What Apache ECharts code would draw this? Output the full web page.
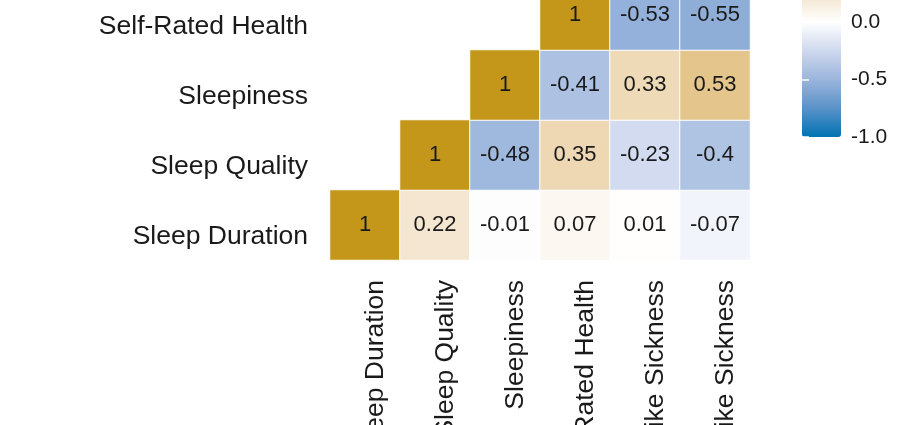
<!DOCTYPE html>
<html>
<head>
<meta charset="utf-8">
<script src="https://cdn.jsdelivr.net/npm/echarts@6/dist/echarts.min.js"></script>
<style>
html,body{margin:0;padding:0;background:#fff;overflow:hidden;width:920px;height:425px;}
#chart{position:absolute;left:0;top:-160px;width:920px;height:585px;}
</style>
</head>
<body>
<div id="chart"></div>
<script>
const variables = ['Sleep Duration','Sleep Quality','Sleepiness','Self-Rated Health','Cold-like Sickness','Flu-like Sickness'];
const rowSleepDuration   = [1, 0.22, -0.01, 0.07, 0.01, -0.07];
const rowSleepQuality    = [null, 1, -0.48, 0.35, -0.23, -0.4];
const rowSleepiness      = [null, null, 1, -0.41, 0.33, 0.53];
const rowSelfRatedHealth = [null, null, null, 1, -0.53, -0.55];
const rowColdLike        = [null, null, null, null, 1, 0.6];
const rowFluLike         = [null, null, null, null, null, 1];
const legendTicks = [-1, -0.5, 0, 0.5, 1];

const rows = [rowSleepDuration, rowSleepQuality, rowSleepiness, rowSelfRatedHealth, rowColdLike, rowFluLike];
const data = [];
rows.forEach((r, yi) => r.forEach((v, xi) => { if (v !== null) data.push([xi, yi, v]); }));

const FONT = "'Liberation Sans', Arial, sans-serif";
const chart = echarts.init(document.getElementById('chart'), null, {renderer:'canvas'});
chart.setOption({
  animation: false,
  backgroundColor: '#fff',
  grid: [
    {left: 330, width: 420, top: 0, height: 420, outerBoundsMode:'none', containLabel:false},
    {left: 802, width: 39, top: 67, height: 230, outerBoundsMode:'none', containLabel:false}
  ],
  xAxis: [
    {type:'category', data: variables, gridIndex:0,
     axisLine:{show:false}, axisTick:{show:false}, splitLine:{show:false},
     axisLabel:{rotate:90, fontSize:26.5, color:'#1a1a1a', fontFamily:FONT, margin:20, verticalAlign:'top', lineHeight:22}},
    {type:'value', gridIndex:1, show:false, min:0, max:1}
  ],
  yAxis: [
    {type:'category', data: variables, gridIndex:0,
     axisLine:{show:false}, axisTick:{show:false}, splitLine:{show:false},
     axisLabel:{fontSize:26.5, color:'#1a1a1a', fontFamily:FONT, margin:22, verticalAlign:'top', lineHeight:24}},
    {type:'value', gridIndex:1, position:'right', min:-1, max:1, interval:0.5, z:10,
     axisLine:{show:false}, splitLine:{show:false},
     axisTick:{show:true, inside:true, length:7, lineStyle:{color:'#fff', width:1.5}},
     axisLabel:{fontSize:21, color:'#1a1a1a', fontFamily:FONT, margin:10, formatter: v => v.toFixed(1)}},
    {type:'value', gridIndex:1, position:'left', min:-1, max:1, interval:0.5, z:10,
     axisLine:{show:false}, splitLine:{show:false},
     axisTick:{show:true, inside:true, length:7, lineStyle:{color:'#fff', width:1.5}},
     axisLabel:{show:false}}
  ],
  visualMap: {
    type:'continuous', min:-1, max:1, seriesIndex:0, dimension:2,
    left:802, top:67, itemWidth:39, itemHeight:230, padding:0,
    calculable:false, hoverLink:false, text:null, showLabel:false,
    inRange:{color:['#0072B2','#5A92C8','#9BB5DC','#CED8EE','#FFFFFF','#F3E3CA','#E6C893','#D3AF5A','#C4961A']}
  },
  series: [{
    type:'heatmap', xAxisIndex:0, yAxisIndex:0, data: data,
    itemStyle:{borderColor:'#fff', borderWidth:1},
    emphasis:{disabled:true},
    label:{show:true, fontSize:22, color:'#1a1a1a', fontFamily:FONT,
      formatter: p => String(p.value[2])}
  }]
});
</script>
</body>
</html>
